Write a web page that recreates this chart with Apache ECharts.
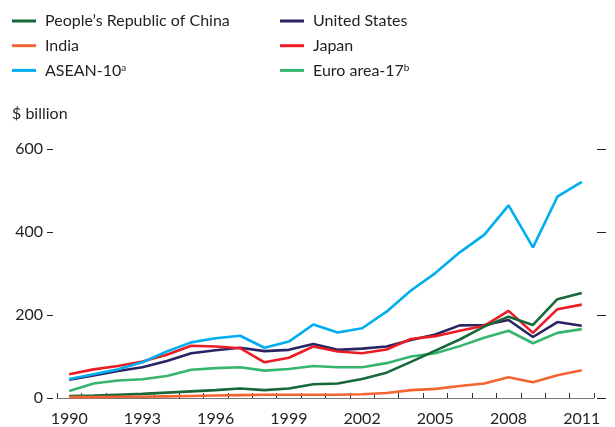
<!DOCTYPE html>
<html>
	<head>
		<meta charset="utf-8" />
		<title></title>
		<script src="https://cdn.jsdelivr.net/npm/echarts@6/dist/echarts.min.js"></script>
		<style>
			*{
				padding: 0;
				margin: 0;
			}
			.main{
				width: 615px;
				height: 427px;
				background: #fff;
			}
		</style>
	</head>
	<body>
		<div id="main" class="main"></div>
		<script type="text/javascript">

		// years on the x axis
		var years = [];
		for (var y = 1990; y <= 2011; y++) {
			years.push(String(y));
		}

		// $ billion
		var china  = [5, 6, 8, 10, 13, 16, 19, 23, 19, 23, 33, 35, 46, 61, 87, 114, 141, 172, 196, 176, 238, 253];
		var india  = [2, 2, 3, 3, 4, 5, 6, 7, 8, 8, 8, 8, 9, 12, 19, 22, 29, 35, 50, 38, 55, 67];
		var asean  = [46, 57, 69, 86, 112, 134, 144, 150, 121, 136, 177, 158, 168, 208, 259, 301, 351, 393, 464, 363, 485, 521];
		var usa    = [44, 54, 65, 74, 89, 108, 115, 121, 113, 116, 130, 116, 119, 124, 140, 153, 175, 176, 188, 147, 183, 174];
		var japan  = [57, 69, 77, 88, 104, 126, 124, 120, 86, 97, 124, 112, 108, 117, 142, 149, 162, 174, 210, 157, 214, 225];
		var euro   = [17, 35, 42, 45, 53, 68, 72, 74, 66, 70, 77, 74, 74, 84, 100, 108, 125, 145, 162, 132, 157, 166];

		var yTicks = [0, 200, 400, 600];

		var txt = '#231f20';
		var font = 'Lato';

		var myChart = echarts.init(document.getElementById('main'));

		function line(name, data, color) {
			return {
				name: name,
				type: 'line',
				data: data,
				symbol: 'none',
				lineStyle: { color: color, width: 2.6 },
				itemStyle: { color: color },
				emphasis: { disabled: true }
			};
		}

		var legendText = {
			color: txt,
			fontFamily: font,
			fontSize: 16,
			lineHeight: 16,
			padding: [0, 0, 0, 4],
			rich: {
				sup: { fontSize: 10, lineHeight: 16, verticalAlign: 'top', padding: [0, 0, 8, 0], color: txt, fontFamily: font }
			}
		};

		function legendFmt(name) {
			if (name == 'ASEAN-10') return 'ASEAN-10{sup|a}';
			if (name == 'Euro area-17') return 'Euro area-17{sup|b}';
			return name;
		}

		var option = {
			backgroundColor: '#fff',
			animation: false,
			title: {
				text: '$ billion',
				left: 12,
				top: 106,
				padding: 0,
				textStyle: { color: txt, fontFamily: font, fontSize: 16, fontWeight: 'normal' }
			},
			legend: [{
				orient: 'vertical',
				left: 12,
				top: 13,
				padding: 0,
				itemGap: 8.7,
				itemWidth: 24,
				itemHeight: 3,
				icon: 'rect',
				selectedMode: false,
				textStyle: legendText,
				formatter: legendFmt,
				data: ["People\u2019s Republic of China", 'India', 'ASEAN-10']
			}, {
				orient: 'vertical',
				left: 280,
				top: 13,
				padding: 0,
				itemGap: 8.7,
				itemWidth: 24,
				itemHeight: 3,
				icon: 'rect',
				selectedMode: false,
				textStyle: legendText,
				formatter: legendFmt,
				data: ['United States', 'Japan', 'Euro area-17']
			}],
			grid: {
				left: 57,
				right: 21,
				top: 149,
				bottom: 29
			},
			xAxis: {
				type: 'category',
				data: years,
				boundaryGap: true,
				axisLine: { show: true, lineStyle: { color: '#777', width: 1.2 } },
				axisTick: { show: true, inside: true, length: 5, interval: 0, lineStyle: { color: '#333' } },
				axisLabel: { interval: 2, margin: 13, color: txt, fontFamily: font, fontSize: 16 },
				splitLine: { show: false }
			},
			yAxis: [{
				type: 'value',
				min: yTicks[0],
				max: yTicks[yTicks.length - 1],
				interval: 200,
				position: 'left',
				offset: 4,
				axisLine: { show: false },
				axisTick: { show: true, length: 6, lineStyle: { color: '#222', width: 1 } },
				axisLabel: { margin: 10, color: txt, fontFamily: font, fontSize: 16, padding: [0, 0, 6, 0] },
				splitLine: { show: false }
			}, {
				type: 'value',
				min: yTicks[0],
				max: yTicks[yTicks.length - 1],
				interval: 200,
				position: 'right',
				offset: 3,
				axisLine: { show: false },
				axisTick: { show: true, length: 9, lineStyle: { color: '#222', width: 1 } },
				axisLabel: { show: false },
				splitLine: { show: false }
			}],
			series: [
				line('Euro area-17', euro, '#35b56e'),
				line('United States', usa, '#2b2462'),
				line('Japan', japan, '#ec1c24'),
				line("People\u2019s Republic of China", china, '#17693a'),
				line('India', india, '#f26431'),
				line('ASEAN-10', asean, '#00aeef')
			]
		};

		myChart.setOption(option);

		</script>
	</body>
</html>
